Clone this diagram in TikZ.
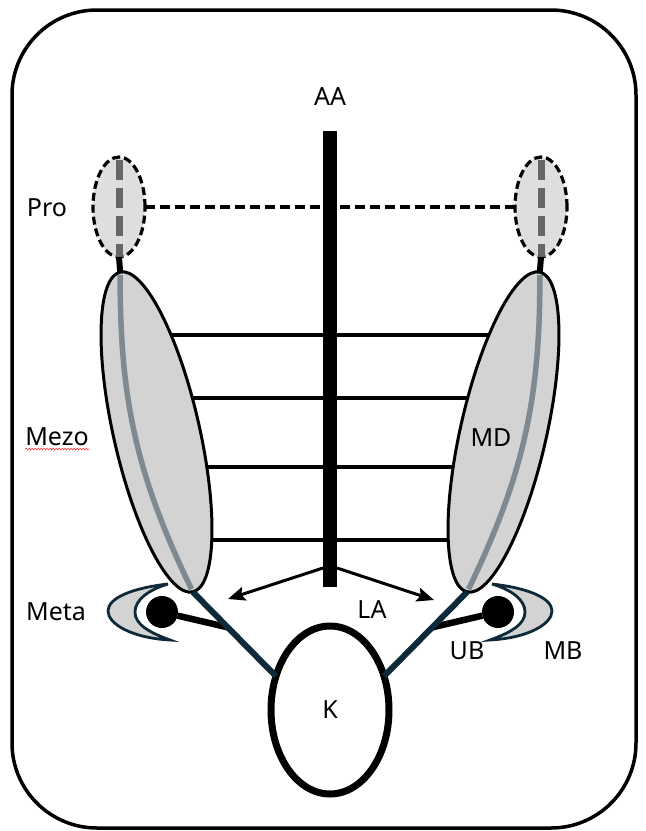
\documentclass[tikz,border=0pt]{standalone}
\usepackage{fontspec}
\setmainfont{Noto Sans}
\usetikzlibrary{arrows.meta,positioning,shapes.geometric,calc,backgrounds,decorations.pathmorphing}
\definecolor{segfill}{HTML}{D3D3D3}
\definecolor{profill}{HTML}{DEDEDE}
\definecolor{axisgray}{HTML}{7F8A90}
\definecolor{prodash}{HTML}{666666}
\definecolor{legline}{HTML}{0E2A38}

\begin{document}
\begin{tikzpicture}[
    x=1pt, y=-1pt,
    every node/.style={font=\fontsize{25}{28}\selectfont, inner sep=0pt, outer sep=0pt},
    segment/.style={draw, ellipse, line width=3pt, fill=segfill, minimum width=86pt, minimum height=328pt},
    prosegment/.style={draw, ellipse, dash pattern=on 8pt off 4pt, line width=3.2pt, fill=profill, minimum width=52pt, minimum height=100pt},
    ball/.style={circle, fill=black, minimum size=32pt},
    leg/.style={legline, line width=6pt},
    rung/.style={line width=3.2pt},
    push/.style={line width=3pt, -{Stealth[length=17pt, width=14pt, inset=3pt]}},
    crescent/.pic={
      \draw[legline, line width=2.8pt, fill=segfill]
        (6,-28) .. controls (-30,-24) and (-54,-14) .. (-54,-1)
        .. controls (-54,12) and (-30,26) .. (8,28)
        .. controls (-14,20) and (-27,12) .. (-27,0)
        .. controls (-27,-12) and (-14,-22) .. (6,-28) -- cycle;
    }
  ]
  \useasboundingbox (0,0) rectangle (646,831);
  \draw[line width=3.5pt, rounded corners=85pt] (12,10) rectangle (636,828);

  \node (aalabel) at (330,97) {AA};
  \node[fill=black, minimum width=14pt, minimum height=456pt] (aa) at (330,359) {};

  \node[segment, rotate=12.8] (mezoL) at (156.5,432) {};
  \node[segment, rotate=-12.8] (mezoR) at (503.5,432) {};
  \begin{scope}[on background layer]
    \foreach \y in {335,398,467,540}
      \draw[rung] (mezoL.center |- 0,\y) -- (mezoR.center |- 0,\y);
  \end{scope}
  \draw[axisgray, line width=5.5pt, shorten <=3pt, shorten >=3pt] (mezoL.north) to[bend right=13] (mezoL.south);
  \draw[axisgray, line width=5.5pt, shorten <=3pt, shorten >=3pt] (mezoR.north) to[bend left=13] (mezoR.south);

  \node[prosegment] (proL) at (119,207) {};
  \node[prosegment] (proR) at (541,207) {};
  \draw[prodash, line width=7pt, dash pattern=on 20pt off 8pt] ([yshift=-3pt]proL.north) -- (proL.south);
  \draw[prodash, line width=7pt, dash pattern=on 20pt off 8pt] ([yshift=-3pt]proR.north) -- (proR.south);
  \draw[line width=3.5pt, dash pattern=on 10pt off 5pt] (proL.east) -- (proR.west);
  \draw[line width=6pt] (proL.south) -- (mezoL.north);
  \draw[line width=6pt] (proR.south) -- (mezoR.north);

  \node[draw, ellipse, line width=7pt, fill=white, minimum width=118pt, minimum height=168pt] (K) at (330,710) {K};

  \node[ball] (ballL) at (162,612) {};
  \node[ball] (ballR) at (498,612) {};
  \pic at (ballL) {crescent};
  \pic[xscale=-1] at (ballR) {crescent};
  \draw[line width=6.5pt] (ballL) -- ($(mezoL.south)!0.42!(K.148)$);
  \draw[line width=6.5pt] (ballR) -- ($(mezoR.south)!0.42!(K.32)$);
  \draw[leg] (mezoL.south) -- (K.148);
  \draw[leg] (mezoR.south) -- (K.32);

  \coordinate (laL) at (228,599);
  \coordinate (laR) at (434,600);
  \draw[push] ([yshift=19pt]aa.south west) -- (laL);
  \draw[push] ([yshift=19pt]aa.south east) -- (laR);

  \node (pro) at (47,208) {Pro};
  \node (mezo) at (57,437) {Mezo};
  \draw[red!80, line width=0.6pt, decorate, decoration={snake, amplitude=0.8pt, segment length=3pt}]
    ([yshift=-3pt]mezo.south west) -- ([yshift=-3pt]mezo.south east);
  \node (meta) at (56,612) {Meta};
  \node (md) at (491,438) {MD};
  \node (la) at (372,610) {LA};
  \node (ub) at (467,651) {UB};
  \node (mb) at (563,651) {MB};
\end{tikzpicture}
\end{document}
